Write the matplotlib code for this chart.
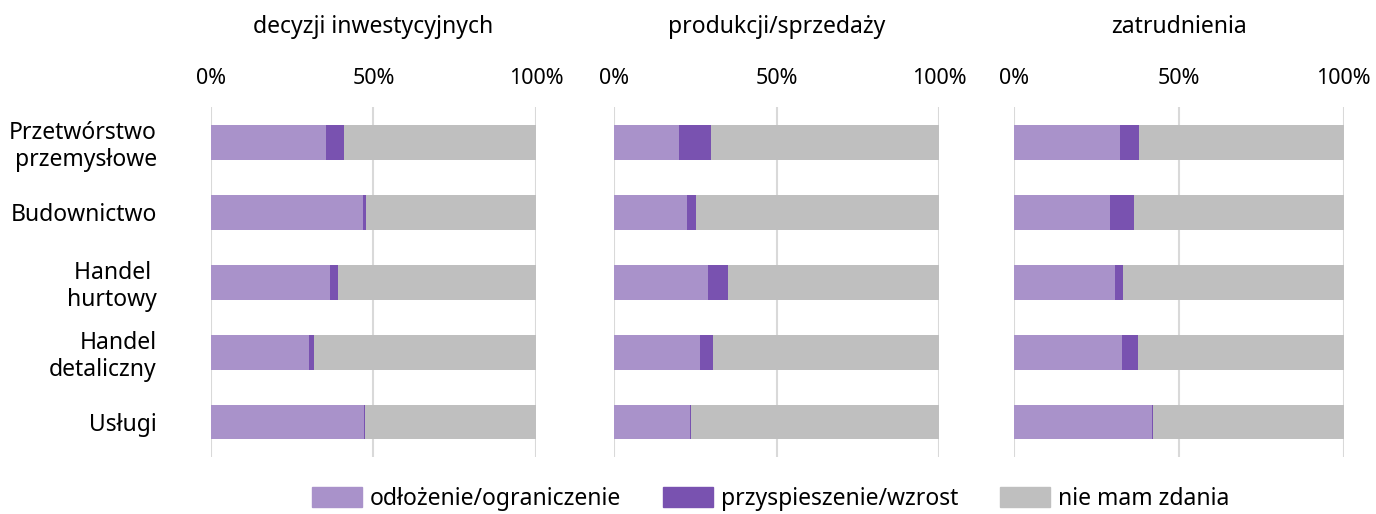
import numpy as np
import matplotlib
matplotlib.use("Agg")
import matplotlib.pyplot as plt
from matplotlib.patches import Patch

plt.rcParams['font.family'] = ['Noto Sans', 'DejaVu Sans']

sectors = ['Przetwórstwo\nprzemysłowe', 'Budownictwo', 'Handel \nhurtowy',
           'Handel\ndetaliczny', 'Usługi']
panels = ['decyzji inwestycyjnych', 'produkcji/sprzedaży', 'zatrudnienia']
series_names = ['odłożenie/ograniczenie', 'przyspieszenie/wzrost', 'nie mam zdania']

# shares in %, one list per panel
odlozenie = [
    [35.4, 46.9, 36.6, 30.3, 47.1],
    [20.0, 22.5, 29.0, 26.4, 23.3],
    [32.1, 29.1, 30.6, 32.9, 41.9],
]
wzrost = [
    [5.5, 0.7, 2.6, 1.3, 0.3],
    [9.8, 2.6, 5.9, 4.0, 0.3],
    [6.0, 7.4, 2.4, 4.7, 0.2],
]

colors = ['#A992CA', '#7952B0', '#BFBFBF']

fig = plt.figure(figsize=(13.76, 5.14), dpi=100)
boxes = [(0.1533, 0.2362), (0.4464, 0.2362), (0.7367, 0.2398)]

for i, (left, w) in enumerate(boxes):
    ax = fig.add_axes([left, 0.1109, w, 0.6809])
    a = np.array(odlozenie[i])
    b = np.array(wzrost[i])
    c = 100 - a - b
    y = np.arange(len(sectors))
    ax.barh(y, a, height=0.5, color=colors[0], zorder=2)
    ax.barh(y, b, left=a, height=0.5, color=colors[1], zorder=2)
    ax.barh(y, c, left=a + b, height=0.5, color=colors[2], zorder=2)
    ax.set_xlim(0, 100)
    ax.set_ylim(4.5, -0.5)
    ax.set_xticks([0, 50, 100])
    ax.set_xticklabels(['0%', '50%', '100%'])
    ax.xaxis.tick_top()
    ax.tick_params(axis='x', length=0, pad=13, labelsize=15.5)
    ax.grid(axis='x', color='#D9D9D9', linewidth=1.5, zorder=0)
    for s in ax.spines.values():
        s.set_visible(False)
    ax.set_yticks(y)
    if i == 0:
        ax.set_yticklabels(sectors, fontsize=16.5, ha='right', linespacing=1.15)
        ax.tick_params(axis='y', length=0, pad=39)
    else:
        ax.set_yticklabels([])
        ax.tick_params(axis='y', length=0)
    ax.set_title(panels[i], fontsize=16.5, pad=53)

handles = [Patch(color=col) for col in colors]
fig.legend(handles, series_names, loc='center', bbox_to_anchor=(0.56, 0.03),
           ncol=3, frameon=False, fontsize=16.5, handlelength=2.2,
           handleheight=1.0, handletextpad=0.35, columnspacing=1.8)

fig.savefig('out.png', dpi=100)
